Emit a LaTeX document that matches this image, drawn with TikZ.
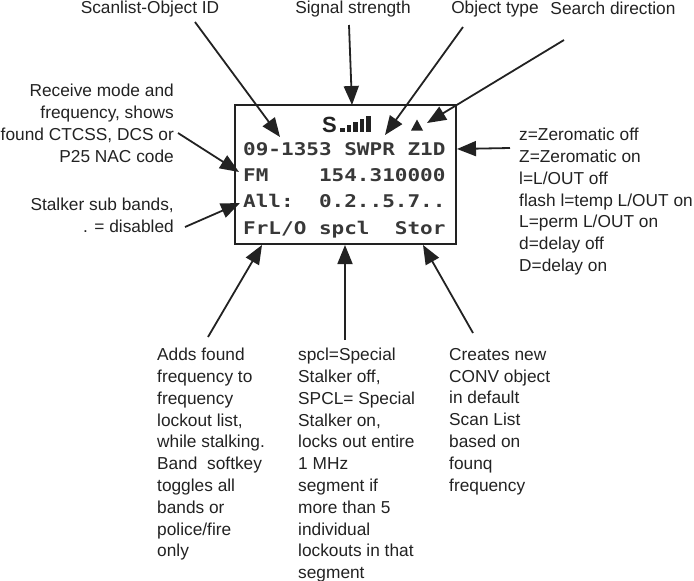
\documentclass[tikz,border=0pt]{standalone}
\usepackage{fontspec}
\setmainfont{Liberation Sans}
\newfontfamily\lcdfont[FakeStretch=1.2]{DejaVu Sans Mono}
\usetikzlibrary{arrows.meta}
\definecolor{ink}{HTML}{222222}
\definecolor{lcdink}{HTML}{383838}

\begin{document}
\begin{tikzpicture}
  [x=1pt, y=-1pt,
    every node/.style={inner sep=0pt, text=ink},
    lbl/.style={font=\fontsize{17.3}{21.8}\selectfont, anchor=base},
    note/.style={font=\fontsize{17.3}{21.8}\selectfont, align=left, anchor=north west},
    rnote/.style={note, align=right, anchor=north east},
    ptr/.style={draw=ink, line width=1.8pt, -{Triangle[length=19pt,width=15pt]}},
    lcdrow/.style={font=\lcdfont\bfseries\fontsize{17.5}{20}\selectfont, text=lcdink, anchor=base west},
]
\useasboundingbox (0,0) rectangle (694,581);

% display
\node[draw=ink, line width=1.8pt, minimum width=221pt, minimum height=139pt] (lcd) at (345.5,174.5) {};
\node[font=\bfseries\fontsize{22}{22}\selectfont, anchor=base west] (sig) at (322,132) {S};
\foreach \i/\h in {0/4,1/7,2/10,3/13,4/16}
  \fill[ink] (340+\i*6.5,132) rectangle ++(4.6,-\h);
\fill[ink] (411,130.5) -- (423,130.5) -- (417,119.5) -- cycle;

\node[lcdrow] (row1) at (243,155.5) {09-1353~SWPR~Z1D};
\node[lcdrow] (row2) at (243,181) {FM~~~~154.310000};
\node[lcdrow] (row3) at (243,207.5) {All:~~0.2..5.7..};
\node[lcdrow] (row4) at (243,234) {FrL/O~spcl~~Stor};

% labels
\node[lbl] (idlbl) at (150,13) {Scanlist-Object ID};
\node[lbl] (siglbl) at (353,13) {Signal strength};
\node[lbl] (objlbl) at (495,13) {Object type};
\node[lbl] (dirlbl) at (613,14) {Search direction};

\node[rnote] (rxnote) at (174,84) {Receive mode and\\frequency, shows\\found CTCSS, DCS or\\P25 NAC code};
\node[rnote] (sbnote) at (174,198) {Stalker sub bands,\\. = disabled};
\node[note] (znote) at (519,128) {z=Zeromatic off\\Z=Zeromatic on\\l=L/OUT off\\flash l=temp L/OUT on\\L=perm L/OUT on\\d=delay off\\D=delay on};

\node[note] (flonote) at (157,348) {Adds found\\frequency to\\frequency\\lockout list,\\while stalking.\\Band~ softkey\\toggles all\\bands or\\police/fire\\only};
\node[note] (spcnote) at (298,348) {spcl=Special\\Stalker off,\\SPCL= Special\\Stalker on,\\locks out entire\\1 MHz\\segment if\\more than 5\\individual\\lockouts in that\\segment};
\node[note] (stornote) at (449,348) {Creates new\\CONV object\\in default\\Scan List\\based on\\founq\\frequency};

% arrow tips
\coordinate (idtip) at (280,137);
\coordinate (sigtip) at (352,105);
\coordinate (objtip) at (385,135);
\coordinate (dirtip) at (427,123);
\coordinate (ztip) at (457,149);
\coordinate (rxtip) at (239,172);
\coordinate (sbtip) at (240,203);
\coordinate (flotip) at (262,245);
\coordinate (spctip) at (345,245);
\coordinate (stortip) at (423,245);

\draw[ptr] ([shift={(45pt,-9pt)}]idlbl.base) -- (idtip);
\draw[ptr] ([shift={(-4pt,-12pt)}]siglbl.base) -- (sigtip);
\draw[ptr] ([shift={(-32pt,-14pt)}]objlbl.base) -- (objtip);
\draw[ptr] ([shift={(-49pt,-26pt)}]dirlbl.base) -- (dirtip);
\draw[ptr] ([shift={(-9pt,-20pt)}]znote.north west) -- (ztip);
\draw[ptr] ([shift={(4pt,-49pt)}]rxnote.north east) -- (rxtip);
\draw[ptr] ([shift={(11pt,-29pt)}]sbnote.north east) -- (sbtip);
\draw[ptr] ([shift={(51pt,11pt)}]flonote.north west) -- (flotip);
\draw[ptr] ([shift={(47pt,8pt)}]spcnote.north west) -- (spctip);
\draw[ptr] ([shift={(24pt,15pt)}]stornote.north west) -- (stortip);
\end{tikzpicture}
\end{document}
